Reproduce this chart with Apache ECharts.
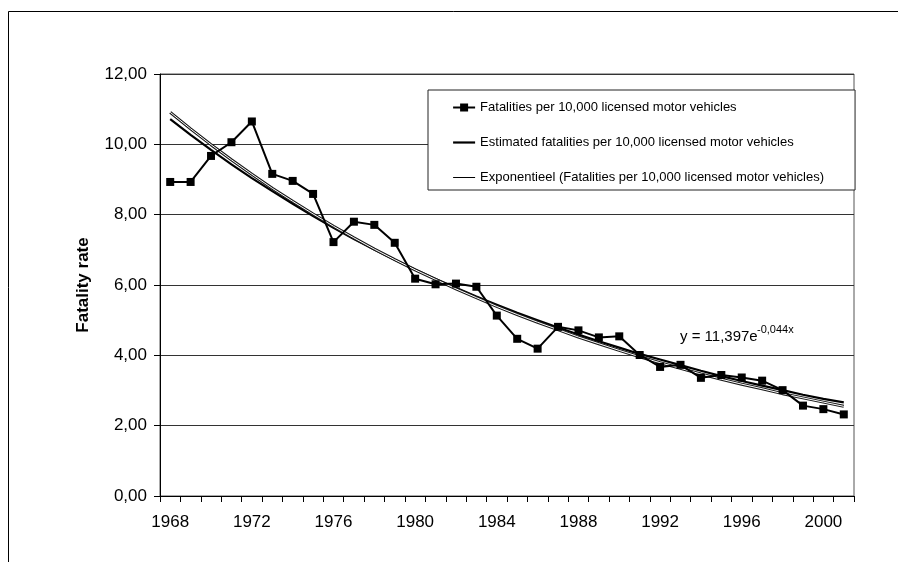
<!DOCTYPE html>
<html>
<head>
<meta charset="utf-8">
<script src="https://cdn.jsdelivr.net/npm/echarts@6/dist/echarts.min.js"></script>
<style>
html,body{margin:0;padding:0;background:#fff;}
#chart{width:898px;height:562px;}
</style>
</head>
<body>
<div id="chart"></div>
<script>
var years = ['1968','1969','1970','1971','1972','1973','1974','1975','1976','1977','1978','1979','1980','1981','1982','1983','1984','1985','1986','1987','1988','1989','1990','1991','1992','1993','1994','1995','1996','1997','1998','1999','2000','2001'];
var fatalities = [8.93,8.93,9.67,10.06,10.65,9.16,8.96,8.59,7.22,7.80,7.71,7.20,6.18,6.02,6.04,5.95,5.13,4.47,4.19,4.81,4.71,4.51,4.54,4.01,3.67,3.73,3.36,3.44,3.37,3.28,3.01,2.57,2.47,2.32];
var estimated = [10.72,10.27,9.84,9.43,9.04,8.67,8.31,7.96,7.63,7.31,7.01,6.72,6.44,6.17,5.92,5.67,5.44,5.21,5.00,4.79,4.59,4.40,4.22,4.04,3.88,3.72,3.56,3.41,3.27,3.14,3.01,2.88,2.76,2.66];
var exponential = [10.91,10.44,9.99,9.56,9.15,8.75,8.38,8.02,7.67,7.34,7.02,6.72,6.43,6.16,5.89,5.64,5.39,5.16,4.94,4.73,4.52,4.33,4.14,3.96,3.79,3.63,3.47,3.32,3.18,3.05,2.91,2.79,2.67,2.55];
var yTicks = [0,2,4,6,8,10,12];

var nameData = 'Fatalities per 10,000 licensed motor vehicles';
var nameEst = 'Estimated fatalities per 10,000 licensed motor vehicles';
var nameExp = 'Exponentieel (Fatalities per 10,000 licensed motor vehicles)';
var FONT = '"Liberation Sans", Arial, sans-serif';

var chart = echarts.init(document.getElementById('chart'), null, {renderer:'canvas'});
chart.setOption({
  animation: false,
  backgroundColor: '#fff',
  grid: {left:160, top:74, width:694, height:422, show:true, borderColor:'#555', borderWidth:1, backgroundColor:'transparent'},
  xAxis: {
    type:'category', data: years, boundaryGap:true,
    axisLine:{lineStyle:{color:'#000', width:1}},
    axisTick:{show:true, interval:0, length:6, lineStyle:{color:'#000'}},
    axisLabel:{interval:3, color:'#000', fontFamily:FONT, fontSize:17, margin:18},
    splitLine:{show:false}
  },
  yAxis: {
    type:'value', min:yTicks[0], max:yTicks[yTicks.length-1], interval:2,
    name:'Fatality rate', nameLocation:'middle', nameGap:68, nameRotate:90,
    nameTextStyle:{color:'#000', fontFamily:FONT, fontSize:17, fontWeight:'bold'},
    axisLine:{show:true, lineStyle:{color:'#000', width:1}},
    axisTick:{show:true, length:6, lineStyle:{color:'#000'}},
    axisLabel:{color:'#000', fontFamily:FONT, fontSize:17, margin:13,
      formatter:function(v){return v.toFixed(2).replace('.', ',');}},
    splitLine:{show:true, lineStyle:{color:'#333', width:1}}
  },
  legend: {
    orient:'vertical', left:428, top:90,
    padding:[11,31,6,24], itemGap:22, itemWidth:22, itemHeight:10,
    backgroundColor:'#fff', borderColor:'#222', borderWidth:1, borderRadius:0,
    textStyle:{color:'#000', fontFamily:FONT, fontSize:13},
    data:[
      {name:nameData},
      {name:nameEst, itemStyle:{opacity:0}, lineStyle:{width:2.2, color:'#000'}},
      {name:nameExp, itemStyle:{opacity:0}, lineStyle:{width:1, color:'#000'}}
    ]
  },
  graphic: [
    {type:'rect', silent:true, z:-10, shape:{x:8.5, y:11.5, width:1000, height:1000}, style:{fill:'none', stroke:'#000', lineWidth:1}},
    {type:'text', left:680, top:329, style:{text:'y = 11,397e', fill:'#000', font:'15px "Liberation Sans", Arial, sans-serif'}},
    {type:'text', left:757, top:324, style:{text:'-0,044x', fill:'#000', font:'11px "Liberation Sans", Arial, sans-serif'}}
  ],
  series: [
    {name:nameEst, type:'line', data:estimated, symbol:'none', z:2,
      lineStyle:{color:'#000', width:2.2}, itemStyle:{color:'#000'}},
    {name:nameExp, type:'line', data:exponential, symbol:'none', z:3,
      lineStyle:{color:'#1a1a1a', width:3}, itemStyle:{color:'#000'}},
    {name:'expInner', type:'line', data:exponential, symbol:'none', z:4,
      lineStyle:{color:'#fff', width:1}, itemStyle:{color:'#fff'}, tooltip:{show:false}},
    {name:nameData, type:'line', data:fatalities, symbol:'rect', symbolSize:8, z:5,
      lineStyle:{color:'#000', width:2}, itemStyle:{color:'#000'}}
  ]
});
</script>
</body>
</html>
